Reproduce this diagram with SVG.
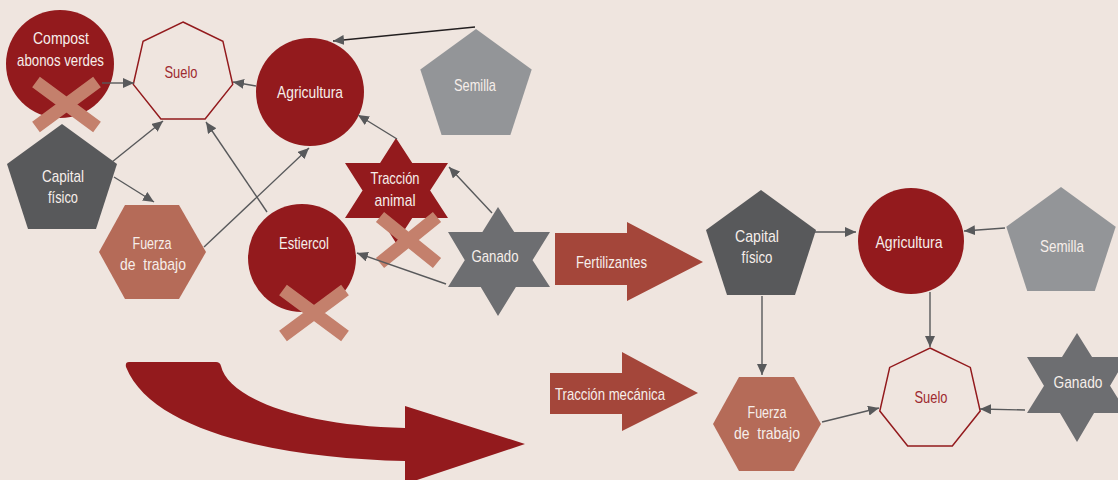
<svg xmlns="http://www.w3.org/2000/svg" width="1118" height="480" viewBox="0 0 1118 480">
  <defs>
    <marker id="arr" markerUnits="userSpaceOnUse" markerWidth="11" markerHeight="10" refX="11" refY="5" orient="auto">
      <path d="M0,0 L11,5 L0,10 Z" fill="#58595B"/>
    </marker>
    <style>
      .bg { fill: #EFE5DF; }
      .red { fill: #931A1D; }
      .dark { fill: #58595B; }
      .grey { fill: #939598; }
      .mid { fill: #6D6E71; }
      .salmon { fill: #B56B58; }
      .brick { fill: #A4463A; }
      .ring { fill: #EFE5DF; stroke: #931A1D; stroke-width: 1.5; }
      .cross { stroke: #C4806C; stroke-width: 13; stroke-linecap: butt; fill: none; }
      .lbl { font-family: "Liberation Sans", Arial, sans-serif; font-size: 17px; fill: #F6EEEA; text-anchor: middle; }
      .lbl.start { text-anchor: start; }
      .lbl.redtxt { fill: #9E2A30; }
      .conn line { stroke: #58595B; stroke-width: 1.4; marker-end: url(#arr); }
      .conn line.black { stroke: #231F20; stroke-width: 1.6; }
    </style>
  </defs>

  <rect class="bg" x="0" y="0" width="1118" height="480"/>

  <!-- before: traditional system -->
  <g id="compost">
    <circle class="red" cx="60" cy="64" r="54"/>
    <text class="lbl" x="61" y="44" textLength="56" lengthAdjust="spacingAndGlyphs">Compost</text>
    <text class="lbl" x="60.5" y="66" textLength="87" lengthAdjust="spacingAndGlyphs">abonos verdes</text>
    <path class="cross" d="M36,82 L97,127 M97,82 L36,127"/>
  </g>

  <g id="suelo-1">
    <polygon class="ring" points="183,22 222.9,41.2 232.7,84.4 205.1,119 160.9,119 133.3,84.4 143.1,41.2"/>
    <text class="lbl redtxt" x="181" y="78" textLength="33" lengthAdjust="spacingAndGlyphs">Suelo</text>
  </g>

  <g id="agricultura-1">
    <circle class="red" cx="310" cy="92" r="54"/>
    <text class="lbl" x="310" y="98" textLength="66" lengthAdjust="spacingAndGlyphs">Agricultura</text>
  </g>

  <g id="semilla-1">
    <polygon class="grey" points="476,29 531.7,69.5 510.4,135 441.6,135 420.3,69.5"/>
    <text class="lbl" x="475" y="91" textLength="42" lengthAdjust="spacingAndGlyphs">Semilla</text>
  </g>

  <g id="capital-1">
    <polygon class="dark" points="62,124 117,164 96,229 28,229 7,164"/>
    <text class="lbl" x="63" y="182" textLength="42" lengthAdjust="spacingAndGlyphs">Capital</text>
    <text class="lbl" x="63" y="203" textLength="30" lengthAdjust="spacingAndGlyphs">físico</text>
  </g>

  <g id="fuerza-1">
    <polygon class="salmon" points="99,252 125,205 179,205 206,252 179,299 125,299"/>
    <text class="lbl" x="152" y="249" textLength="39" lengthAdjust="spacingAndGlyphs">Fuerza</text>
    <text class="lbl" x="153" y="270" textLength="66" lengthAdjust="spacingAndGlyphs" xml:space="preserve">de  trabajo</text>
  </g>

  <g id="estiercol">
    <circle class="red" cx="302" cy="258" r="54"/>
    <text class="lbl" x="304" y="249" textLength="50" lengthAdjust="spacingAndGlyphs">Estiercol</text>
    <path class="cross" d="M283,290 L345,336 M345,290 L283,336"/>
  </g>

  <g id="traccion-animal">
    <path class="red" d="M396,138 L448,218 L345,218 Z M396,243 L345,163 L448,163 Z"/>
    <text class="lbl" x="395" y="184" textLength="49" lengthAdjust="spacingAndGlyphs">Tracción</text>
    <text class="lbl" x="395" y="206" textLength="41" lengthAdjust="spacingAndGlyphs">animal</text>
    <path class="cross" d="M380,217 L437,263 M437,217 L380,263"/>
  </g>

  <g id="ganado-1">
    <path class="mid" d="M498,207 L550,287 L448,287 Z M498,316 L448,232 L550,232 Z"/>
    <text class="lbl" x="495" y="262" textLength="47" lengthAdjust="spacingAndGlyphs">Ganado</text>
  </g>

  <!-- transition arrow -->
  <g id="transition">
    <path class="red" d="M129,362 L216,362 Q220,362 221,366 C228,398 300,426 405,428 L405,406 L525,444 L405,484 L405,461 C280,458 152,432 126,367 Q125,362 129,362 Z"/>
  </g>

  <!-- after: mechanised system -->
  <g id="fertilizantes">
    <polygon class="brick" points="555,233 627,233 627,222 703,262 627,301 627,285 555,285"/>
    <text class="lbl start" x="576" y="268" textLength="71" lengthAdjust="spacingAndGlyphs">Fertilizantes</text>
  </g>

  <g id="traccion-mecanica">
    <polygon class="brick" points="550,373 622,373 622,352 698,393 622,431 622,414 550,414"/>
    <text class="lbl start" x="555" y="400" textLength="110" lengthAdjust="spacingAndGlyphs">Tracción mecánica</text>
  </g>

  <g id="capital-2">
    <polygon class="dark" points="761,190 816,230 795,295 727,295 706,230"/>
    <text class="lbl" x="757" y="242" textLength="44" lengthAdjust="spacingAndGlyphs">Capital</text>
    <text class="lbl" x="757" y="263" textLength="31" lengthAdjust="spacingAndGlyphs">físico</text>
  </g>

  <g id="agricultura-2">
    <circle class="red" cx="911" cy="241" r="53"/>
    <text class="lbl" x="909" y="248" textLength="67" lengthAdjust="spacingAndGlyphs">Agricultura</text>
  </g>

  <g id="semilla-2">
    <polygon class="grey" points="1061,187 1115.7,226.7 1094.8,291 1027.2,291 1006.3,226.7"/>
    <text class="lbl" x="1062" y="252" textLength="44" lengthAdjust="spacingAndGlyphs">Semilla</text>
  </g>

  <g id="fuerza-2">
    <polygon class="salmon" points="713,424 739,377 794,377 821,424 794,471 739,471"/>
    <text class="lbl" x="767" y="418" textLength="39" lengthAdjust="spacingAndGlyphs">Fuerza</text>
    <text class="lbl" x="767" y="439" textLength="66" lengthAdjust="spacingAndGlyphs" xml:space="preserve">de  trabajo</text>
  </g>

  <g id="suelo-2">
    <polygon class="ring" points="930,348 970.3,367.4 980.2,411 952.3,445.9 907.7,445.9 879.8,411 889.7,367.4"/>
    <text class="lbl redtxt" x="931" y="403" textLength="33" lengthAdjust="spacingAndGlyphs">Suelo</text>
  </g>

  <g id="ganado-2">
    <path class="mid" d="M1077,333 L1127,413 L1027,413 Z M1077,442 L1027,357 L1127,357 Z"/>
    <text class="lbl" x="1078" y="388" textLength="49" lengthAdjust="spacingAndGlyphs">Ganado</text>
  </g>

  <!-- connectors -->
  <g id="connectors" class="conn">
    <line x1="102" y1="83" x2="134" y2="83"/>
    <line x1="256" y1="86" x2="233" y2="82"/>
    <line class="black" x1="475" y1="27" x2="333" y2="41"/>
    <line x1="112" y1="162" x2="163" y2="121"/>
    <line x1="114" y1="177" x2="154" y2="202"/>
    <line x1="267" y1="212" x2="206" y2="122"/>
    <line x1="204" y1="247" x2="309" y2="148"/>
    <line x1="397" y1="139" x2="358" y2="115"/>
    <line x1="492" y1="213" x2="449" y2="167"/>
    <line x1="446" y1="284" x2="357" y2="253"/>
    <line x1="813" y1="232" x2="856" y2="232"/>
    <line x1="1005" y1="228" x2="964" y2="231"/>
    <line x1="762" y1="296" x2="762" y2="375"/>
    <line x1="930" y1="292" x2="930" y2="347"/>
    <line x1="822" y1="422" x2="879" y2="408"/>
    <line x1="1025" y1="410" x2="980" y2="409"/>
  </g>
</svg>
